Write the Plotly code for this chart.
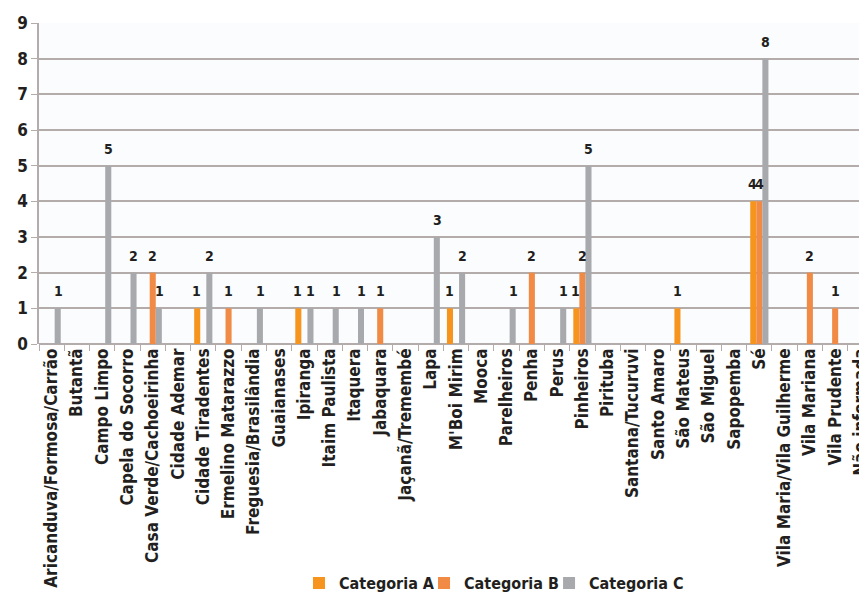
import plotly.graph_objects as go

# subprefeituras (x categories)
regioes = [
    "Aricanduva/Formosa/Carrão", "Butantã", "Campo Limpo", "Capela do Socorro",
    "Casa Verde/Cachoeirinha", "Cidade Ademar", "Cidade Tiradentes",
    "Ermelino Matarazzo", "Freguesia/Brasilândia", "Guaianases", "Ipiranga",
    "Itaim Paulista", "Itaquera", "Jabaquara", "Jaçanã/Tremembé", "Lapa",
    "M'Boi Mirim", "Mooca", "Parelheiros", "Penha", "Perus", "Pinheiros",
    "Pirituba", "Santana/Tucuruvi", "Santo Amaro", "São Mateus", "São Miguel",
    "Sapopemba", "Sé", "Vila Maria/Vila Guilherme", "Vila Mariana",
    "Vila Prudente", "Não informada",
]

cat_a = [0, 0, 0, 0, 0, 0, 1, 0, 0, 0, 1, 0, 0, 0, 0, 0,
         1, 0, 0, 0, 0, 1, 0, 0, 0, 1, 0, 0, 4, 0, 0, 0, 0]
cat_b = [0, 0, 0, 0, 2, 0, 0, 1, 0, 0, 0, 0, 0, 1, 0, 0,
         0, 0, 0, 2, 0, 2, 0, 0, 0, 0, 0, 0, 4, 0, 2, 1, 0]
cat_c = [1, 0, 5, 2, 1, 0, 2, 0, 1, 0, 1, 1, 1, 0, 0, 3,
         2, 0, 1, 0, 1, 5, 0, 0, 0, 0, 0, 0, 8, 0, 0, 0, 0]

series = [
    ("Categoria A", cat_a, "#f7941d"),
    ("Categoria B", cat_b, "#f08a45"),
    ("Categoria C", cat_c, "#a7a9ac"),
]

FONT = "DejaVu Sans Condensed"
GRID = "#b3acab"
INK = "#231f20"

legend_ids = ["legend", "legend2", "legend3"]
legend_x = [0.314, 0.465, 0.616]

fig = go.Figure()
for k, (nome, vals, cor) in enumerate(series):
    fig.add_trace(go.Bar(
        x=regioes,
        y=vals,
        name=nome,
        legend=legend_ids[k],
        marker=dict(color=cor, line=dict(width=0)),
    ))

# value labels a little above each non-zero bar (slot of ~6px per series)
for k, (nome, vals, cor) in enumerate(series):
    for reg, v in zip(regioes, vals):
        if v:
            fig.add_annotation(
                x=reg, y=v, xref="x", yref="y",
                text=str(v), showarrow=False,
                xshift=(k - 1) * 6.5, yshift=7,
                yanchor="bottom",
                font=dict(family=FONT, size=14, color=INK, weight="bold"),
            )

# one small legend per series so the entries can sit close together
legend_style = dict(
    orientation="h",
    xanchor="left",
    y=-0.745, yanchor="middle",
    font=dict(family=FONT, size=16, color=INK, weight="bold"),
    itemwidth=30,
    bgcolor="rgba(0,0,0,0)",
)
for lid, lx in zip(legend_ids, legend_x):
    fig.update_layout({lid: dict(x=lx, **legend_style)})

# page body has an 8px margin, so the figure is a bit smaller than the window;
# the plot runs off the right edge like in the original
fig.update_layout(
    width=859,
    height=585,
    barmode="group",
    bargap=0.28,
    bargroupgap=0,
    paper_bgcolor="#ffffff",
    plot_bgcolor="#fafcfe",
    margin=dict(l=31, r=0, t=15, b=249, autoexpand=False),
    font=dict(family=FONT, color=INK),
    showlegend=True,
    xaxis=dict(
        automargin=False,
        range=[-0.5, 32.26],
        tickangle=-90,
        tickson="boundaries",
        ticks="outside",
        ticklen=6,
        tickcolor=GRID,
        showline=False,
        tickfont=dict(family=FONT, size=17, color=INK, weight="bold"),
    ),
    yaxis=dict(
        automargin=False,
        range=[0, 9],
        dtick=1,
        showgrid=True,
        gridcolor=GRID,
        gridwidth=1.5,
        zeroline=True,
        zerolinecolor=GRID,
        zerolinewidth=1.5,
        showline=True,
        linecolor=GRID,
        linewidth=1.5,
        ticks="outside",
        ticklen=6,
        tickcolor=GRID,
        tickfont=dict(family=FONT, size=17, color=INK, weight="bold"),
    ),
)

fig.write_html("out.html")
